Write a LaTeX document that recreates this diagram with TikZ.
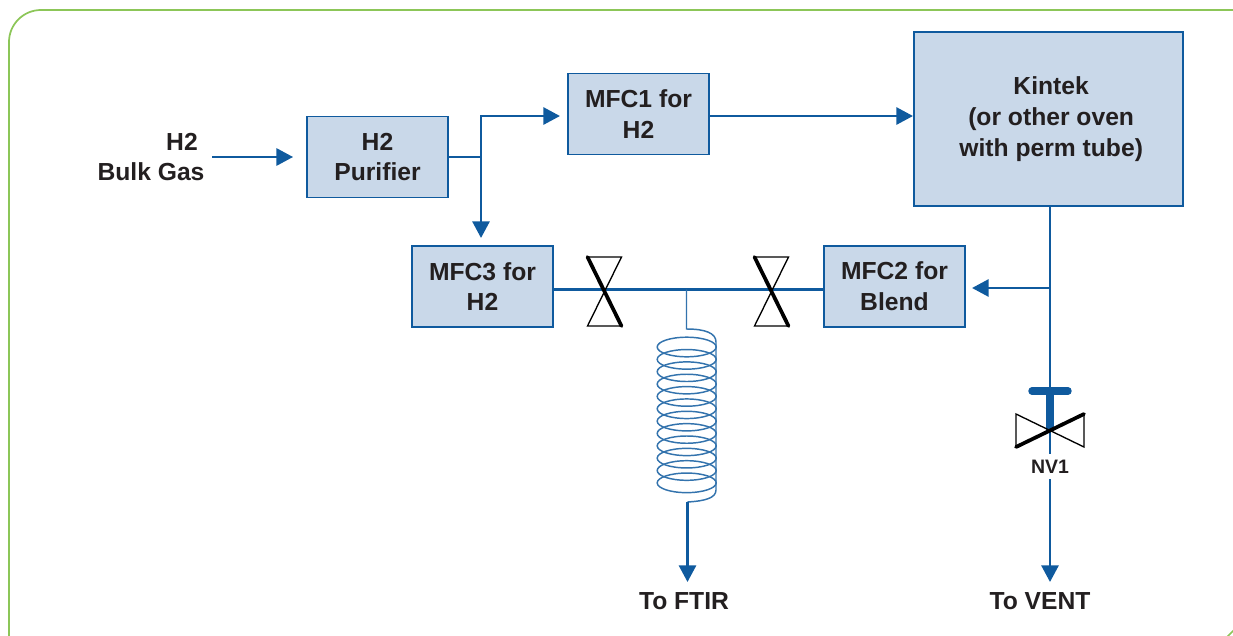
\documentclass[tikz,border=0pt]{standalone}
\usepackage{fontspec}
\setmainfont{Liberation Sans}
\usetikzlibrary{arrows.meta}
\definecolor{pipe}{HTML}{0F5A9E}
\definecolor{boxfill}{HTML}{C9D8E9}
\definecolor{frame}{HTML}{8CC658}
\definecolor{ink}{HTML}{231F20}
\tikzset{
  x=0.75pt,y=-0.75pt,
  box/.style={draw=pipe,fill=boxfill,line width=1.3pt,minimum width=105.8pt,minimum height=60.8pt,inner sep=0pt,align=center,font=\bfseries\fontsize{18.5}{23}\selectfont,text=ink},
  lab/.style={font=\bfseries\fontsize{18.5}{23}\selectfont,text=ink,inner sep=0pt},
  flow/.style={draw=pipe,line width=2.05pt},
  flowa/.style={flow,-{Triangle[length=12.5pt,width=12.8pt]}},
  vthin/.style={draw=black,line width=1pt,line join=miter},
  vthick/.style={draw=black,line width=2.8pt,line cap=round},
  coil/.style={draw=pipe!85!white,line width=1.1pt}
}
\begin{document}
\begin{tikzpicture}
\useasboundingbox (0,0) rectangle (1233,636);
\begin{scope}
\clip (0,0) rectangle (1233,636);
\draw[frame,line width=1.3pt,rounded corners=24pt] (9,660) -- (9,10) -- (1260,10);
\draw[frame,line width=1.3pt] (1227,637) -- (1234,630);
\end{scope}

\node[box] (pur) at (377.5,157) {H2\\Purifier};
\node[box] (mfc1) at (638.5,114) {MFC1 for\\H2};
\node[box] (mfc3) at (482.5,286.5) {MFC3 for\\H2};
\node[box] (mfc2) at (894.5,286.5) {MFC2 for\\Blend};
\node[box,minimum width=202pt,minimum height=131pt] (kin) at (1048.5,119) {\hspace*{4pt}Kintek\\\hspace*{4pt}(or other oven\\\hspace*{4pt}with perm tube)};

\node[lab] (h2) at (182,142) {H2};
\node[lab] (bulk) at (151,172) {Bulk Gas};
\node[lab] (ftir) at (684,601) {To FTIR};
\node[lab] (vent) at (1040,601) {To VENT};
\node[lab,font=\bfseries\fontsize{14.6}{17}\selectfont] (nv) at (1050,467) {NV1};

\coordinate (src) at (212,157);
\coordinate (jn) at (481,157);
\coordinate (up) at (481,116);
\coordinate (k1) at (913,116);
\coordinate (m1) at (567,116);
\coordinate (m3) at (481,245);
\coordinate (kb) at (1050,207);
\coordinate (tap) at (1050,288);
\coordinate (m2) at (966,288);
\coordinate (vc) at (1050,431);
\coordinate (ve) at (1050,479);
\coordinate (ventend) at (1050,582);
\coordinate (a1) at (554,289.5);
\coordinate (a2) at (823,289.5);
\coordinate (tee) at (686.5,289.5);
\coordinate (c0) at (686.5,329);
\coordinate (c1) at (716,342);
\coordinate (c2) at (716,490);
\coordinate (c3) at (687.5,502);
\coordinate (ftirend) at (687.5,582);
\coordinate (v1) at (604.5,290);
\coordinate (v2) at (771.5,290);

% connectors
\draw[flowa,shorten >=9.75pt] (src) -- (pur.west);
\draw[flow] (pur.east |- jn) -- (jn);
\draw[flowa,shorten >=5.25pt] (jn) -- (up) -- (m1);
\draw[flowa,shorten >=5.25pt] (jn) -- (m3) ;
\draw[flowa] (mfc1.east |- k1) -- (k1);
\draw[flow] (kb) -- (vc);
\draw[flowa,shorten >=4.5pt] (tap) -- (m2);
\draw[flowa] (ve) -- (ventend);
\draw[flow,line width=1.9pt] (vc) -- (1050,454);
\draw[flow] (a1) -- (a2);
\draw[coil] (tee) -- (c0) .. controls (705,329) and (716,333) .. (c1) -- (c2) .. controls (716,498) and (705,501) .. (c3);
\draw[flowa] (c3) -- (ftirend);

% coil
\foreach \i in {0,...,11}
  \draw[coil] (686.7,{347+12.35*\i}) ellipse [x radius=29.5,y radius=9.8];

% NV1 valve
\draw[pipe,line width=5.6pt,line cap=round] (1032,391) -- (1068,391);
\draw[pipe,line width=6pt] (1050,391) -- (vc);
\draw[vthin] (1016,414) -- (1084,447) -- (1084,414) -- (1016,447) -- cycle;
\draw[vthick] (1016,447) -- (1084,414);

% bowtie valves
\foreach \c in {v1,v2}{
  \begin{scope}[shift={(\c)}]
    \draw[vthin] (-17,-33) -- (17,-33) -- (-17,36) -- (17,36) -- cycle;
    \draw[vthick] (-17,-33) -- (17,36);
  \end{scope}
}
\end{tikzpicture}
\end{document}
